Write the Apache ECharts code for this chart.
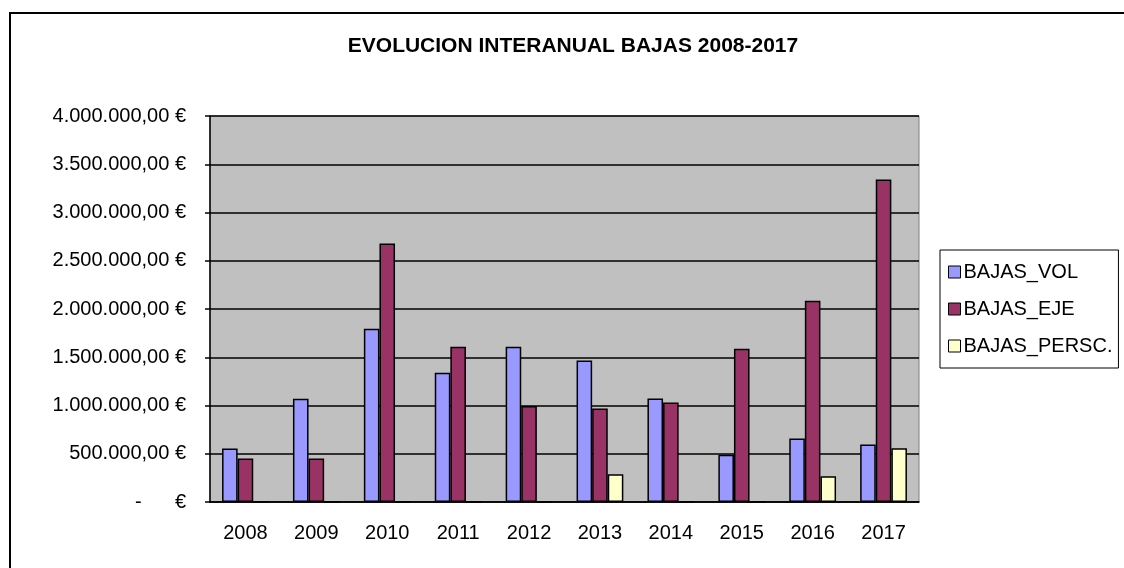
<!DOCTYPE html>
<html>
<head>
<meta charset="utf-8">
<script src="https://cdn.jsdelivr.net/npm/echarts@6/dist/echarts.min.js"></script>
<style>
html,body{margin:0;padding:0;background:#fff;}
#c{width:1124px;height:568px;}
</style>
</head>
<body>
<div id="c"></div>
<script>
var years = ['2008','2009','2010','2011','2012','2013','2014','2015','2016','2017'];
var bajasVol   = [555000, 1070000, 1795000, 1340000, 1610000, 1467000, 1073000, 490000, 659000, 597000];
var bajasEje   = [450000, 450000, 2680000, 1610000, 995000, 970000, 1030000, 1588000, 2085000, 3343000];
var bajasPersc = [0, 0, 0, 0, 0, 287000, 0, 0, 266000, 556000];
var seriesNames = ['BAJAS_VOL', 'BAJAS_EJE', 'BAJAS_PERSC.'];
var seriesColors = ['#9999FF', '#993366', '#FFFFCC'];
var titleText = 'EVOLUCION INTERANUAL BAJAS 2008-2017';

function fmtEuro(v) {
  if (v === 0) return '-      €';
  var s = String(Math.round(v));
  var out = '';
  while (s.length > 3) { out = '.' + s.slice(-3) + out; s = s.slice(0, -3); }
  return s + out + ',00 €';
}

var chart = echarts.init(document.getElementById('c'));
var font = 'Liberation Sans, Arial, sans-serif';
var dataSets = [bajasVol, bajasEje, bajasPersc];
chart.setOption({
  animation: false,
  backgroundColor: '#ffffff',
  textStyle: { fontFamily: font },
  title: {
    text: titleText,
    left: 568, top: 31, textAlign: 'center',
    textStyle: { fontFamily: font, fontSize: 21, fontWeight: 'bold', color: '#000' }
  },
  graphic: [{
    type: 'rect', shape: { x: 10, y: 13, width: 1200, height: 700 },
    style: { fill: 'none', stroke: '#000', lineWidth: 2 }, silent: true, z: -1
  }],
  legend: {
    orient: 'vertical',
    left: 940, top: 250,
    padding: [12, 6, 12, 8],
    borderColor: '#000', borderWidth: 1,
    itemWidth: 12, itemHeight: 12, itemGap: 17,
    icon: 'rect',
    textStyle: { fontFamily: font, fontSize: 20, color: '#000', padding: [0, 0, 0, -2] },
    itemStyle: { borderColor: '#000', borderWidth: 1 },
    data: seriesNames
  },
  grid: {
    left: 210, right: 205, top: 116, bottom: 66,
    show: true, backgroundColor: '#C0C0C0', borderColor: '#808080', borderWidth: 1
  },
  xAxis: {
    type: 'category', data: years,
    axisLine: { lineStyle: { color: '#000', width: 1.5 } },
    axisTick: { length: 5, lineStyle: { color: '#000', width: 1.5 } },
    axisLabel: { fontFamily: font, fontSize: 20, color: '#000', margin: 21 }
  },
  yAxis: {
    type: 'value', min: 0, max: 4000000, interval: 500000,
    axisLine: { show: true, lineStyle: { color: '#000', width: 1.5 } },
    axisTick: { show: true, length: 5, lineStyle: { color: '#000', width: 1.5 } },
    splitLine: { lineStyle: { color: '#000', width: 1.5 } },
    axisLabel: { fontFamily: font, fontSize: 20, color: '#000', margin: 24, formatter: fmtEuro }
  },
  series: seriesNames.map(function (n, i) {
    return {
      name: n, type: 'bar', data: dataSets[i],
      barGap: '0%', barCategoryGap: '34%',
      itemStyle: { color: seriesColors[i], borderColor: '#000', borderWidth: 1.5 }
    };
  })
});
</script>
</body>
</html>
